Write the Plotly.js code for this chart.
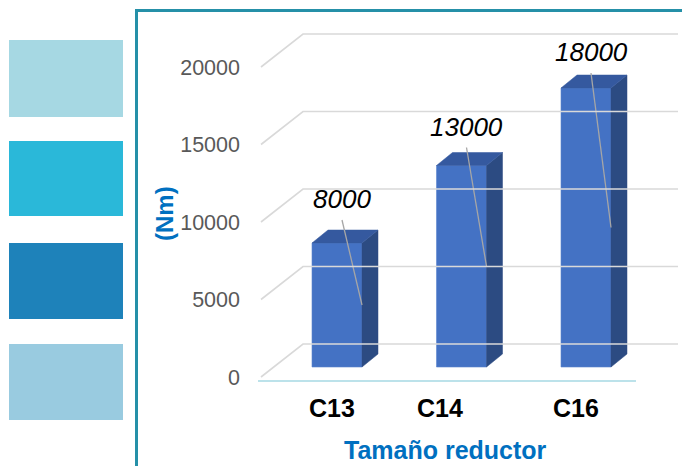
<!DOCTYPE html>
<html>
<head>
<meta charset="utf-8">
<script src="https://cdn.plot.ly/plotly-3.0.1.min.js"></script>
<style>html,body{margin:0;padding:0;background:#fff;}#chart{width:682px;height:466px;}</style>
</head>
<body>
<div id="chart"></div>
<script>
// ---- data ----
const categories = ['C13', 'C14', 'C16'];
const values = [8000, 13000, 18000];
const valueLabels = ['8000', '13000', '18000'];
const yTicks = [0, 5000, 10000, 15000, 20000];
const yTickText = ['0', '5000', '10000', '15000', '20000'];
const xTitle = 'Tamaño reductor';
const yTitle = '(Nm)';

// ---- geometry / style ----
const W = 682, H = 466;
const PX_X = 124.5;        // pixels per category step
const PX_Y = 0.0155;       // pixels per unit of value
const ORIGIN_PX = 337, BASE_PY = 367;
const ux = p => p / PX_X;
const uy = p => p / PX_Y;
const xr = [-ORIGIN_PX / PX_X, (W - ORIGIN_PX) / PX_X];
const yr = [-(H - BASE_PY) / PX_Y, BASE_PY / PX_Y];
const FRONT_DROP = uy(10);            // label plane below the bar plane
const yr2 = [yr[0] + FRONT_DROP, yr[1] + FRONT_DROP];
const BAR_W = ux(50);
const DX = ux(16), DY = uy(13);       // bar depth
const labelShift = [44, 39, 36];
const catShift = [-5, -22, -10];

const traces = [];

// grid (back wall + floor diagonals), in label-plane coordinates
const gx = [], gy = [];
const xFL = ux(261 - ORIGIN_PX), xBL = ux(303 - ORIGIN_PX), xBR = ux(678 - ORIGIN_PX);
yTicks.forEach(v => {
  gx.push(xFL, xBL, xBR, null);
  gy.push(v, v + uy(33), v + uy(33), null);
});
traces.push({type: 'scatter', mode: 'lines', x: gx, y: gy, yaxis: 'y2',
  line: {color: '#D9D9D9', width: 1.6}, hoverinfo: 'skip'});

// front faces
traces.push({type: 'bar', x: categories.map((c, i) => i), y: values, width: BAR_W,
  marker: {color: '#4472C4', line: {color: '#5A84CF', width: 0.6}}, hoverinfo: 'skip'});

// side and top faces
values.forEach((v, i) => {
  const l = i - BAR_W / 2, r = i + BAR_W / 2;
  traces.push({type: 'scatter', mode: 'lines', fill: 'toself', fillcolor: '#2C4B82',
    x: [r, r + DX, r + DX, r, r], y: [0, DY, v + DY, v, 0],
    line: {width: 0.5, color: '#2C4B82'}, hoverinfo: 'skip'});
  traces.push({type: 'scatter', mode: 'lines', fill: 'toself', fillcolor: '#35599F',
    x: [l, l + DX, r + DX, r, l], y: [v, v + DY, v + DY, v, v],
    line: {width: 0.5, color: '#35599F'}, hoverinfo: 'skip'});
});

// leader lines
values.forEach((v, i) => {
  traces.push({type: 'scatter', mode: 'lines',
    x: [i + ux(5), i + BAR_W / 2],
    y: [v + uy(labelShift[i] - 21), v / 2],
    line: {color: '#A6A6A6', width: 1.3}, hoverinfo: 'skip'});
});

const FONT = 'Liberation Sans, Arial, sans-serif';
const annotations = [];
values.forEach((v, i) => {
  annotations.push({x: i + ux(5), y: v, xref: 'x', yref: 'y', yshift: labelShift[i],
    xanchor: 'center', yanchor: 'middle',
    text: valueLabels[i], showarrow: false,
    font: {family: FONT, size: 26, color: '#000', style: 'italic'}});
});
categories.forEach((c, i) => {
  annotations.push({x: i, y: 1 - 408 / H, xref: 'x', yref: 'paper', xshift: catShift[i],
    xanchor: 'center', yanchor: 'middle',
    text: '<b>' + c + '</b>', showarrow: false,
    font: {family: FONT, size: 25, color: '#000'}});
});
annotations.push({x: 445.5 / W, y: 1 - 450 / H, xref: 'paper', yref: 'paper',
  xanchor: 'center', yanchor: 'middle',
  text: '<b>' + xTitle + '</b>', showarrow: false,
  font: {family: FONT, size: 25, color: '#0070C0'}});
annotations.push({x: 165 / W, y: 1 - 214 / H, xref: 'paper', yref: 'paper', textangle: -90,
  xanchor: 'center', yanchor: 'middle',
  text: '<b>' + yTitle + '</b>', showarrow: false,
  font: {family: FONT, size: 24, color: '#0070C0'}});

const rect = (x0, y0, x1, y1, c) => ({type: 'rect', xref: 'paper', yref: 'paper',
  x0: x0 / W, x1: x1 / W, y0: 1 - y1 / H, y1: 1 - y0 / H, fillcolor: c, line: {width: 0}, layer: 'below'});
const shapes = [
  rect(9, 40, 123, 117, '#A6D8E3'),
  rect(9, 141, 123, 216, '#2AB8D9'),
  rect(9, 243, 123, 319, '#1E82BA'),
  rect(9, 344, 123, 420, '#99CBE0'),
  {type: 'line', xref: 'paper', yref: 'paper', x0: 136.5 / W, x1: 136.5 / W, y0: 0, y1: 1 - 9 / H,
    line: {color: '#2590A8', width: 3}},
  {type: 'line', xref: 'paper', yref: 'paper', x0: 135 / W, x1: 1, y0: 1 - 10.5 / H, y1: 1 - 10.5 / H,
    line: {color: '#2590A8', width: 3}},
  {type: 'line', xref: 'paper', yref: 'paper', x0: 258 / W, x1: 636 / W, y0: 1 - 381 / H, y1: 1 - 381 / H,
    line: {color: '#A6D8E3', width: 1.5}}
];

const layout = {
  width: W, height: H, margin: {l: 0, r: 0, t: 0, b: 0},
  paper_bgcolor: '#FFFFFF', plot_bgcolor: 'rgba(0,0,0,0)', showlegend: false,
  xaxis: {range: xr, showgrid: false, zeroline: false, showticklabels: false, showline: false, fixedrange: true},
  yaxis: {range: yr, showgrid: false, zeroline: false, showticklabels: false, showline: false, fixedrange: true},
  yaxis2: {range: yr2, overlaying: 'y', anchor: 'free', position: 240 / W, side: 'left',
    tickvals: yTicks, ticktext: yTickText, ticks: '', showgrid: false, zeroline: false, showline: false,
    tickfont: {family: FONT, size: 21.5, color: '#595959'}, fixedrange: true},
  annotations: annotations, shapes: shapes, bargap: 0
};
Plotly.newPlot('chart', traces, layout, {displayModeBar: false, staticPlot: true});
</script>
</body>
</html>
